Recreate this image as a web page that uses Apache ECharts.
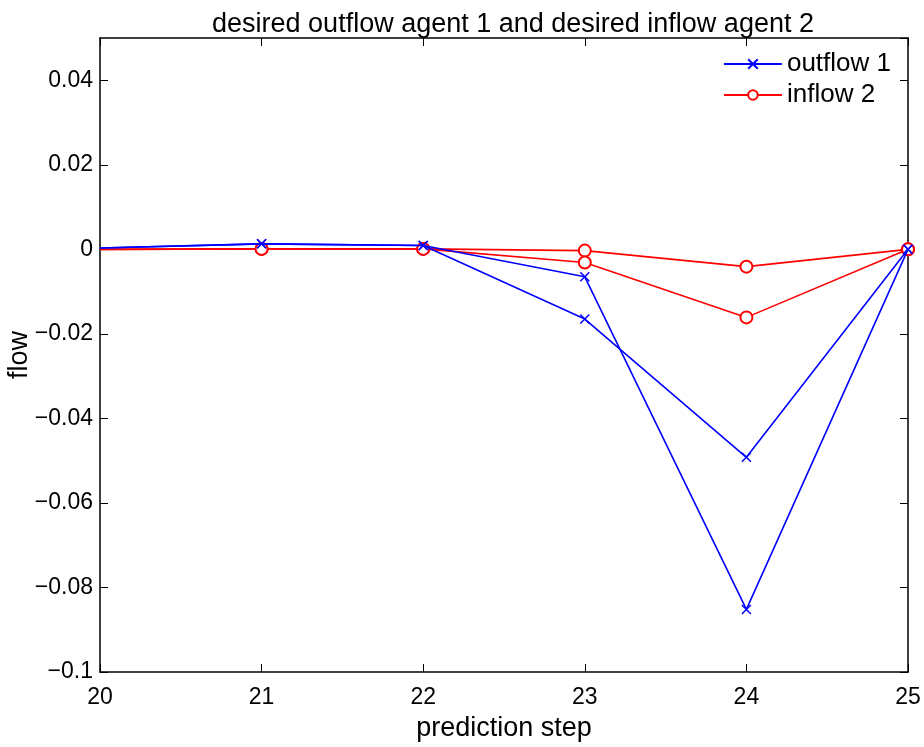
<!DOCTYPE html>
<html><head><meta charset="utf-8">
<script src="https://cdn.jsdelivr.net/npm/echarts@6/dist/echarts.min.js"></script>
<style>html,body{margin:0;padding:0;background:#fff}#c{width:924px;height:747px}</style>
</head><body><div id="c"></div>
<script>
const steps = [20, 21, 22, 23, 24, 25];
const outflowA = [0.0003, 0.0013, 0.0009, -0.0065, -0.0852, 0];
const outflowB = [0.0003, 0.0013, 0.0009, -0.0165, -0.0492, 0];
const inflowA = [0, 0.0001, 0.0001, -0.0003, -0.0041, 0];
const inflowB = [0, 0.0001, 0.0001, -0.0031, -0.0161, 0];

const FONT = '"Liberation Sans", Arial, sans-serif';
const crossPath = 'path://M0,0L10,10M10,0L0,10';
function mk(vals) {
  return vals.map((v, i) => i === 0 ? { value: [steps[i], v], symbol: 'none' } : [steps[i], v]);
}
function fmtY(v) {
  const r = Math.round(v * 1000) / 1000;
  if (r === 0) return '0';
  return String(r).replace('-', '\u2212');
}
const blueStyle = {
  type: 'line', name: 'outflow 1', symbol: crossPath, symbolSize: 9,
  lineStyle: { color: '#0000ff', width: 1.6 },
  itemStyle: { color: '#0000ff', borderColor: '#0000ff', borderWidth: 1.5 },
  emphasis: { disabled: true }, z: 3, clip: true
};
const redStyle = {
  type: 'line', name: 'inflow 2', symbol: 'emptyCircle', symbolSize: 12,
  lineStyle: { color: '#ff0000', width: 1.6 },
  itemStyle: { color: '#ff0000', borderColor: '#ff0000', borderWidth: 1.5 },
  emphasis: { disabled: true }, z: 2, clip: true
};
const axisCommon = {
  axisLine: { show: true, onZero: false, lineStyle: { color: '#000', width: 1.5 } },
  axisTick: { show: true, inside: true, length: 8, lineStyle: { color: '#000', width: 1 } },
  splitLine: { show: false }
};
const chart = echarts.init(document.getElementById('c'));
chart.setOption({
  animation: false,
  backgroundColor: '#fff',
  title: {
    text: 'desired outflow agent 1 and desired inflow agent 2',
    left: 508, top: 6, textAlign: 'center',
    textStyle: { fontFamily: FONT, fontSize: 27, fontWeight: 'normal', color: '#000' }
  },
  legend: {
    right: 28, top: 46, orient: 'vertical', itemWidth: 58, itemHeight: 12, itemGap: 5,
    textStyle: { fontFamily: FONT, fontSize: 26, color: '#000' },
    data: ['outflow 1', 'inflow 2']
  },
  grid: { left: 100, right: 16, top: 38, bottom: 75, outerBoundsMode: 'none' },
  xAxis: [
    Object.assign({
      type: 'value', min: 20, max: 25, interval: 1, position: 'bottom',
      name: 'prediction step', nameLocation: 'middle', nameGap: 43, nameMoveOverlap: false,
      nameTextStyle: { fontFamily: FONT, fontSize: 27, color: '#000' },
      axisLabel: { fontFamily: FONT, fontSize: 23, color: '#000', margin: 14 }
    }, axisCommon),
    Object.assign({
      type: 'value', min: 20, max: 25, interval: 1, position: 'top',
      axisLabel: { show: false }
    }, axisCommon)
  ],
  yAxis: [
    Object.assign({
      type: 'value', min: -0.1, max: 0.05, interval: 0.02, position: 'left',
      name: 'flow', nameLocation: 'middle', nameGap: 67, nameMoveOverlap: false,
      nameTextStyle: { fontFamily: FONT, fontSize: 27, color: '#000' },
      axisLabel: { fontFamily: FONT, fontSize: 23, color: '#000', margin: 7, padding: [5, 0, 0, 0], showMaxLabel: false, formatter: fmtY }
    }, axisCommon),
    Object.assign({
      type: 'value', min: -0.1, max: 0.05, interval: 0.02, position: 'right',
      axisLabel: { show: false }
    }, axisCommon)
  ],
  series: [
    Object.assign({ data: mk(outflowA) }, blueStyle),
    Object.assign({ data: mk(outflowB) }, blueStyle),
    Object.assign({ data: mk(inflowA) }, redStyle),
    Object.assign({ data: mk(inflowB) }, redStyle)
  ]
});
</script></body></html>
